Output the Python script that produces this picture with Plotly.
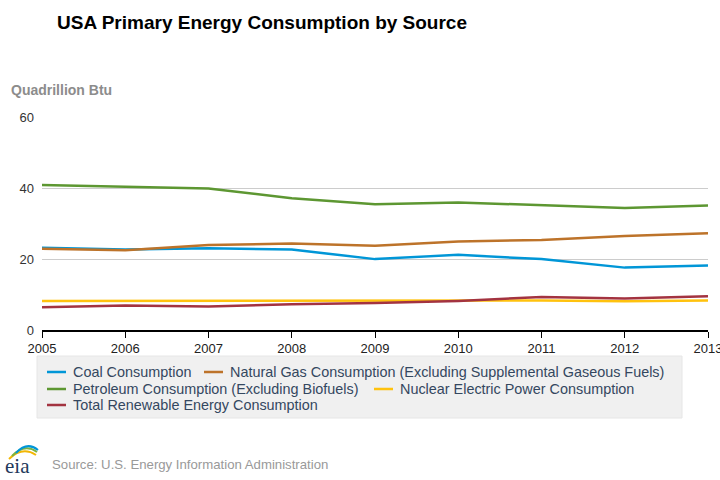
import plotly.graph_objects as go

years = [2005, 2006, 2007, 2008, 2009, 2010, 2011, 2012, 2013]
coal = [23.2, 22.7, 23.1, 22.7, 20.0, 21.2, 20.0, 17.6, 18.2]
natural_gas = [22.9, 22.5, 24.0, 24.4, 23.8, 25.0, 25.4, 26.5, 27.3]
petroleum = [40.9, 40.4, 39.9, 37.2, 35.5, 36.0, 35.3, 34.4, 35.1]
nuclear = [8.2, 8.2, 8.4, 8.4, 8.4, 8.4, 8.3, 8.1, 8.3]
renewable = [6.4, 6.9, 6.6, 7.3, 7.6, 8.2, 9.3, 8.9, 9.5]

names = [
    "Coal Consumption",
    "Natural Gas Consumption (Excluding Supplemental Gaseous Fuels)",
    "Petroleum Consumption (Excluding Biofuels)",
    "Nuclear Electric Power Consumption",
    "Total Renewable Energy Consumption",
]
values = [coal, natural_gas, petroleum, nuclear, renewable]
colors = ["#0096d7", "#bd732a", "#5d9732", "#ffc20e", "#a33340"]

W, H = 720, 480
L, R, T, B = 42, 12, 117, 150
pw, ph = W - L - R, H - T - B


def px(x):
    return (x - L) / pw


def py(y):
    return (H - B - y) / ph


FONT = "Liberation Sans, Arial, Helvetica, sans-serif"

fig = go.Figure()
for name, vals, color in zip(names, values, colors):
    fig.add_trace(go.Scatter(x=years, y=vals, name=name, mode="lines",
                             line=dict(color=color, width=2.5)))

fig.update_layout(
    width=W, height=H,
    margin=dict(l=L, r=R, t=T, b=B),
    paper_bgcolor="white", plot_bgcolor="white",
    font=dict(family=FONT, size=13, color="#333333"),
    title=dict(text="<b>USA Primary Energy Consumption by Source</b>",
               x=57 / W, xanchor="left", xref="container",
               y=1 - 22 / H, yanchor="middle",
               font=dict(size=19, color="black")),
    xaxis=dict(range=[2005, 2013], tickvals=years, showgrid=False,
               showline=True, linecolor="black", linewidth=1.5,
               ticks="outside", ticklen=6, tickcolor="black",
               ticklabeloverflow="allow", automargin=False,
               tickfont=dict(size=13, color="#222222"), zeroline=False),
    yaxis=dict(range=[0, 60.1], tickvals=[0, 20, 40, 60], showgrid=True,
               gridcolor="#cccccc", gridwidth=1, zeroline=False,
               ticklabelstandoff=7, automargin=False,
               tickfont=dict(size=13, color="#333333"), ticks=""),
    showlegend=False,
    hovermode=False,
)

# legend drawn by hand so entries flow like the original
fig.add_shape(type="rect", xref="paper", yref="paper",
              x0=px(37), x1=px(682), y0=py(356), y1=py(418),
              fillcolor="#f0f0f0", line=dict(color="#e6e6e6", width=1), layer="below")
legend_rows = [372, 389, 405]
legend_slots = [(0, 47), (0, 204), (1, 47), (1, 374), (2, 47)]
for name, color, (row, x) in zip(names, colors, legend_slots):
    y = legend_rows[row]
    fig.add_shape(type="line", xref="paper", yref="paper",
                  x0=px(x), x1=px(x + 19), y0=py(y), y1=py(y),
                  line=dict(color=color, width=2.5))
    fig.add_annotation(text=name, xref="paper", yref="paper",
                       x=px(x + 24), y=py(y), xanchor="left", yanchor="middle",
                       showarrow=False,
                       font=dict(size=14.4, color="#34475f", family=FONT))

fig.add_annotation(text="<b>Quadrillion Btu</b>", xref="paper", yref="paper",
                   x=px(9), y=py(90), xanchor="left", yanchor="middle", showarrow=False,
                   font=dict(size=14, color="#8c8c8c"))

fig.add_annotation(text="Source: U.S. Energy Information Administration", xref="paper", yref="paper",
                   x=px(50), y=py(464), xanchor="left", yanchor="middle", showarrow=False,
                   font=dict(size=13.2, color="#999999", family=FONT))

# eia logo
fig.add_annotation(text="eia", xref="paper", yref="paper",
                   x=px(3), y=py(466), xanchor="left", yanchor="middle", showarrow=False,
                   font=dict(size=21, color="#23395b", family="Liberation Serif, DejaVu Serif, serif"))
for (x0, y0, x1, y1, c) in [(9, 459, 36, 455, "#f2b705"), (12, 456, 37, 452, "#7cb342"),
                            (16, 453, 38, 450, "#0096d7")]:
    fig.add_shape(type="path", xref="paper", yref="paper",
                  path=f"M {px(x0)} {py(y0)} Q {px((x0 + x1) / 2)} {py(y1 - 9)} {px(x1)} {py(y1)}",
                  line=dict(color=c, width=2))

fig.write_html("out.html", config={"displayModeBar": False},
               post_script="document.body.style.margin='0';")
